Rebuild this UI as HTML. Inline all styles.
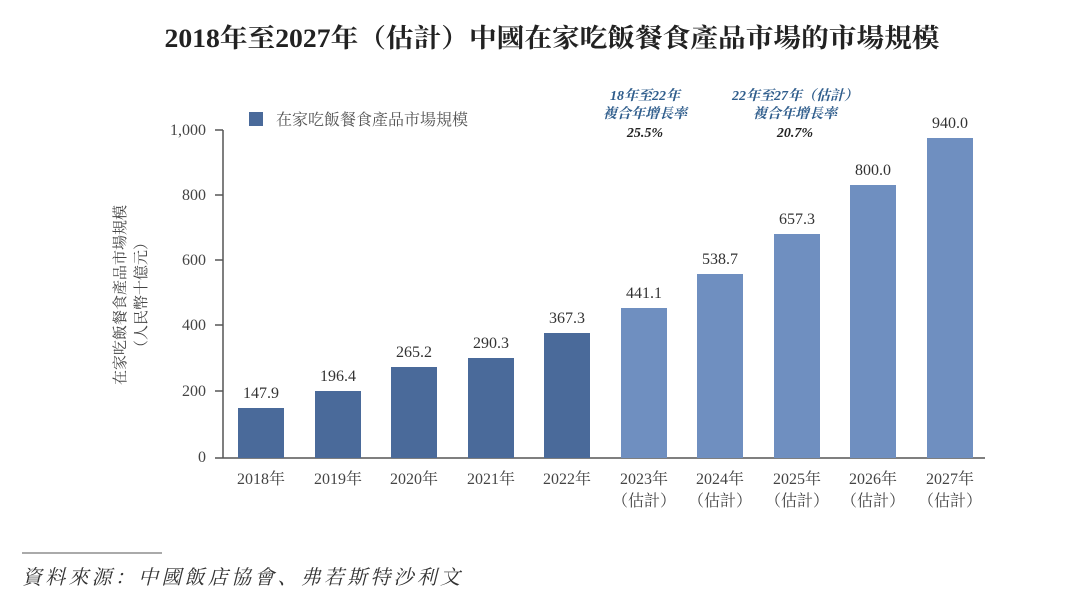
<!DOCTYPE html>
<html><head><meta charset="utf-8"><style>
body{margin:0;background:#fff;}
svg text{font-family:"Liberation Serif","Noto Serif CJK SC",serif;}
</style></head><body>
<svg width="1080" height="602" xmlns="http://www.w3.org/2000/svg">
<text x="552" y="47" text-anchor="middle" font-size="26" font-weight="bold" fill="#222" textLength="775" lengthAdjust="spacingAndGlyphs">2018年至2027年（估計）中國在家吃飯餐食產品市場的市場規模</text>
<g fill="#444" font-size="16" text-anchor="end">
<text x="206" y="462">0</text><text x="206" y="396">200</text><text x="206" y="330">400</text>
<text x="206" y="265">600</text><text x="206" y="200">800</text><text x="206" y="135">1,000</text>
</g>
<g stroke="#555" stroke-width="1.5">
<line x1="223" y1="130" x2="223" y2="458"/><line x1="215" y1="458" x2="985" y2="458"/>
<line x1="215" y1="130" x2="223" y2="130"/><line x1="215" y1="195" x2="223" y2="195"/>
<line x1="215" y1="260" x2="223" y2="260"/><line x1="215" y1="325" x2="223" y2="325"/>
<line x1="215" y1="391" x2="223" y2="391"/>
</g>
<text transform="translate(125,295) rotate(-90)" text-anchor="middle" font-size="15" fill="#444">在家吃飯餐食產品市場規模</text>
<text transform="translate(146,295) rotate(-90)" text-anchor="middle" font-size="15" fill="#444">（人民幣十億元）</text>
<rect x="249" y="112" width="14" height="14" fill="#4a6a9a"/>
<text x="276" y="125" font-size="16" fill="#555">在家吃飯餐食產品市場規模</text>
<g font-size="14" font-style="italic" font-weight="bold" fill="#2f5d8c" text-anchor="middle">
<text x="645" y="100">18年至22年</text><text x="645" y="118">複合年增長率</text><text x="645" y="137" fill="#222">25.5%</text>
<text x="795" y="100">22年至27年（估計）</text><text x="795" y="118">複合年增長率</text><text x="795" y="137" fill="#222">20.7%</text>
</g>
<g>
<rect x="238" y="408" width="46" height="50" fill="#4a6a9a"/>
<rect x="315" y="391" width="46" height="67" fill="#4a6a9a"/>
<rect x="391" y="367" width="46" height="91" fill="#4a6a9a"/>
<rect x="468" y="358" width="46" height="100" fill="#4a6a9a"/>
<rect x="544" y="333" width="46" height="125" fill="#4a6a9a"/>
<rect x="621" y="308" width="46" height="150" fill="#6f8fc0"/>
<rect x="697" y="274" width="46" height="184" fill="#6f8fc0"/>
<rect x="774" y="234" width="46" height="224" fill="#6f8fc0"/>
<rect x="850" y="185" width="46" height="273" fill="#6f8fc0"/>
<rect x="927" y="138" width="46" height="320" fill="#6f8fc0"/>
</g>
<g font-size="16" fill="#333" text-anchor="middle">
<text x="261" y="398">147.9</text><text x="338" y="381">196.4</text><text x="414" y="357">265.2</text>
<text x="491" y="348">290.3</text><text x="567" y="323">367.3</text><text x="644" y="298">441.1</text>
<text x="720" y="264">538.7</text><text x="797" y="224">657.3</text><text x="873" y="175">800.0</text>
<text x="950" y="128">940.0</text>
</g>
<g font-size="16" fill="#444" text-anchor="middle">
<text x="261" y="484">2018年</text><text x="338" y="484">2019年</text><text x="414" y="484">2020年</text>
<text x="491" y="484">2021年</text><text x="567" y="484">2022年</text>
<text x="644" y="484">2023年</text><text x="644" y="506">（估計）</text>
<text x="720" y="484">2024年</text><text x="720" y="506">（估計）</text>
<text x="797" y="484">2025年</text><text x="797" y="506">（估計）</text>
<text x="873" y="484">2026年</text><text x="873" y="506">（估計）</text>
<text x="950" y="484">2027年</text><text x="950" y="506">（估計）</text>
</g>
<line x1="22" y1="553" x2="162" y2="553" stroke="#555" stroke-width="1"/>
<text x="22" y="584" font-size="20" font-style="italic" fill="#333" textLength="438" lengthAdjust="spacing">資料來源：中國飯店協會、弗若斯特沙利文</text>
</svg>
</body></html>
